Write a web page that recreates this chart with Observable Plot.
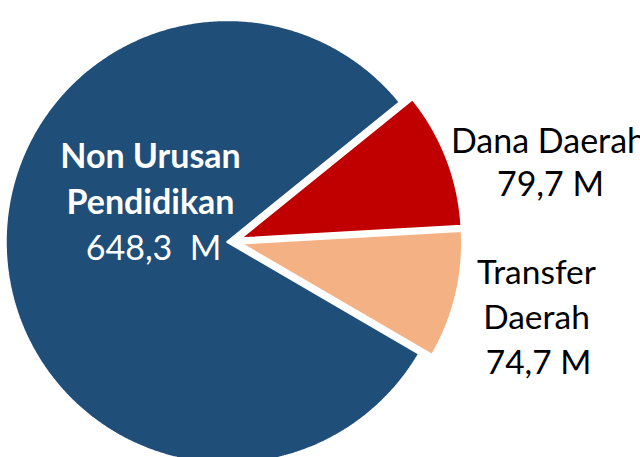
<!DOCTYPE html>
<html>
<head>
<meta charset="utf-8">
<script src="https://cdn.jsdelivr.net/npm/d3@7"></script>
<script src="https://cdn.jsdelivr.net/npm/@observablehq/plot@0.6"></script>
<style>
  html, body { margin: 0; padding: 0; background: #fff; overflow: hidden; }
</style>
</head>
<body>
<div id="chart"></div>
<script>
// ---- data ----
const categories = ["Dana Daerah", "Transfer Daerah", "Non Urusan Pendidikan"];
const values = [79.7, 74.7, 648.3];
const valueLabels = ["79,7 M", "74,7 M", "648,3\u00a0 M"];
const nameLines = [["Dana Daerah"], ["Transfer", "Daerah"], ["Non Urusan", "Pendidikan"]];

// ---- styles / layout ----
const colors = ["#C00000", "#F4B183", "#1F4E79"];
const W = 640, H = 457;
const cx = 232, cy = 241, R = 222;
const startDeg = 51;
const explode = [8, 8, 5];
// label anchor (x, baseline of first line) relative to pie center, line spacing
const labelLayout = [
  {dx: 316, dy: -89, lh: 43, color: "#000", nameWeight: "normal", font: 34, vdx: 2},
  {dx: 304, dy: 42, lh: 45, color: "#000", nameWeight: "normal", font: 33.5, vdx: 2},
  {dx: -82, dy: -74, lh: 46, color: "#fff", nameWeight: "bold", font: 34, vdx: 3}
];

const pie = d3.pie().sort(null)
  .startAngle(startDeg * Math.PI / 180)
  .endAngle(startDeg * Math.PI / 180 + 2 * Math.PI);
const arcs = pie(values);

// build slice outlines from the pie angles
const slicePts = [];
arcs.forEach((a, i) => {
  const mid = (a.startAngle + a.endAngle) / 2;
  const ox = explode[i] * Math.sin(mid), oy = -explode[i] * Math.cos(mid);
  slicePts.push({cat: categories[i], x: ox, y: oy});
  const n = Math.max(8, Math.ceil((a.endAngle - a.startAngle) / (Math.PI / 360)));
  for (let k = 0; k <= n; k++) {
    const t = a.startAngle + (a.endAngle - a.startAngle) * k / n;
    slicePts.push({cat: categories[i], x: ox + R * Math.sin(t), y: oy - R * Math.cos(t)});
  }
  slicePts.push({cat: categories[i], x: ox, y: oy});
});

// text lines
const textRows = [];
categories.forEach((c, i) => {
  const L = labelLayout[i];
  const lines = nameLines[i];
  lines.forEach((s, j) => {
    textRows.push({t: s, x: L.dx, y: L.dy + j * L.lh, fill: L.color, w: L.nameWeight, fs: L.font});
  });
  textRows.push({t: valueLabels[i], x: L.dx + L.vdx, y: L.dy + lines.length * L.lh, fill: L.color, w: "normal", fs: L.font});
});

const font = "Lato, 'Open Sans', sans-serif";
const textMarks = [];
for (const w of ["normal", "bold"]) {
  for (const fs of [...new Set(textRows.map(d => d.fs))]) {
    const rows = textRows.filter(d => d.w === w && d.fs === fs);
    if (!rows.length) continue;
    textMarks.push(Plot.text(rows, {
      x: "x", y: "y", text: "t", fill: d => d.fill,
      fontSize: fs, fontWeight: w, fontFamily: font,
      textAnchor: "middle", lineAnchor: "bottom"
    }));
  }
}

const chart = Plot.plot({
  width: W, height: H,
  margin: 0,
  style: {background: "#fff", overflow: "hidden"},
  x: {type: "linear", domain: [-cx, W - cx], range: [0, W], axis: null},
  y: {type: "linear", domain: [-cy, H - cy], range: [0, H], axis: null},
  color: {domain: categories, range: colors},
  marks: [
    Plot.line(slicePts, {x: "x", y: "y", z: "cat", fill: "cat", stroke: "#fff", strokeWidth: 2.5, strokeLinejoin: "miter", curve: "linear"}),
    ...textMarks
  ]
});
document.getElementById("chart").appendChild(chart);
</script>
</body>
</html>
